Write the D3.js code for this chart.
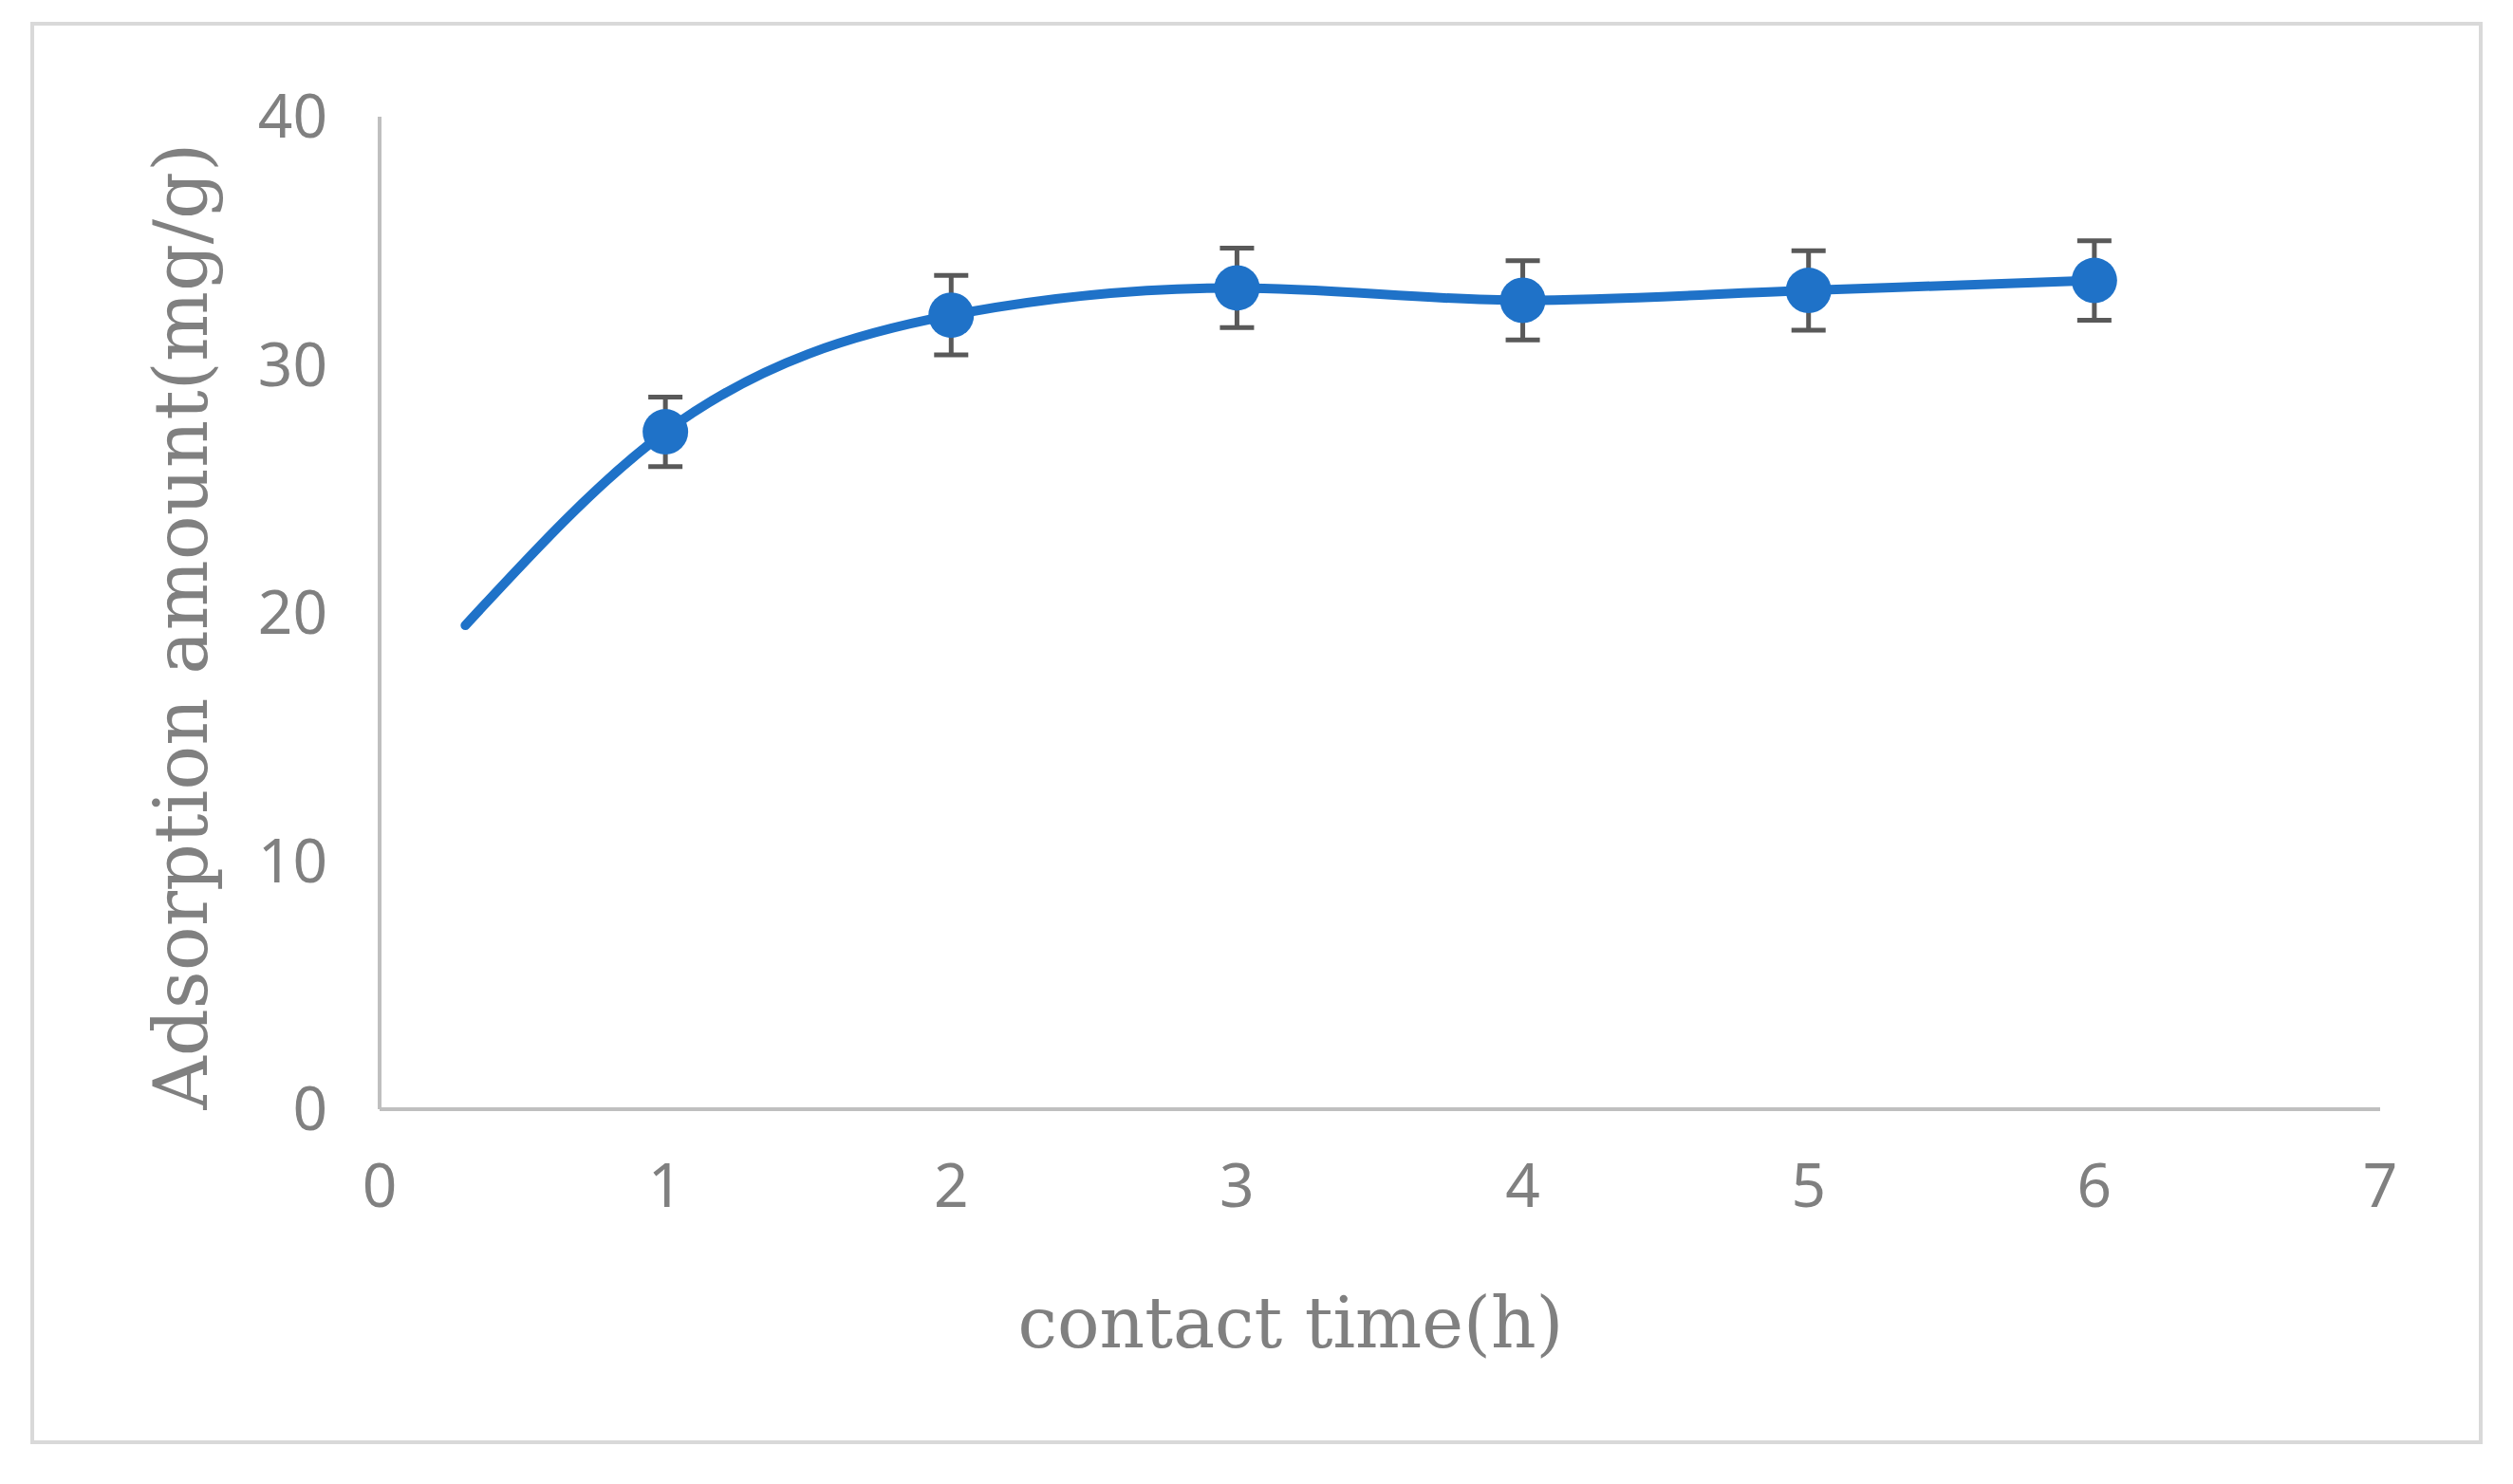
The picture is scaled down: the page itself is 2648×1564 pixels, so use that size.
<!DOCTYPE html>
<html><head><meta charset="utf-8">
<script src="https://cdn.jsdelivr.net/npm/d3@7"></script>
<style>body{margin:0;background:#fff}</style></head>
<body><svg id="c" width="2648" height="1564"></svg>
<script>
const xs = [1, 2, 3, 4, 5, 6];
const ys = [27.3, 32.0, 33.1, 32.6, 33.0, 33.4];
const errs = [1.4, 1.6, 1.6, 1.6, 1.6, 1.6];
const curveStart = [0.3, 19.5];
const xTicks = [0, 1, 2, 3, 4, 5, 6, 7];
const yTicks = [0, 10, 20, 30, 40];

const svg = d3.select("#c");
svg.append("rect").attr("x",34).attr("y",25).attr("width",2580).attr("height",1495)
  .attr("fill","#fff").attr("stroke","#d9d9d9").attr("stroke-width",4);
const x = d3.scaleLinear().domain([0,7]).range([400,2508]);
const y = d3.scaleLinear().domain([0,40]).range([1169,123]);
const grey="#808080";

svg.append("line").attr("x1",x(0)).attr("x2",x(0)).attr("y1",y(40)).attr("y2",y(0)).attr("stroke","#bfbfbf").attr("stroke-width",4);
svg.append("line").attr("x1",x(0)).attr("x2",x(7)).attr("y1",y(0)).attr("y2",y(0)).attr("stroke","#bfbfbf").attr("stroke-width",4);

svg.selectAll(".xt").data(xTicks).join("text").attr("x",d=>x(d)).attr("y",1272)
  .attr("text-anchor","middle").attr("font-family","Noto Sans, sans-serif").attr("font-size",64)
  .attr("fill",grey).text(d=>d);
svg.selectAll(".yt").data(yTicks).join("text").attr("x",345).attr("y",d=>y(d)+22)
  .attr("text-anchor","end").attr("font-family","Noto Sans, sans-serif").attr("font-size",64)
  .attr("fill",grey).text(d=>d);

svg.append("text").attr("x",1360).attr("y",1420).attr("text-anchor","middle")
  .attr("font-family","DejaVu Serif, serif").attr("font-size",74).attr("fill",grey).text("contact time(h)");
svg.append("text").attr("transform","translate(218,660) rotate(-90)").attr("text-anchor","middle")
  .attr("font-family","DejaVu Serif, serif").attr("font-size",78).attr("fill",grey).text("Adsorption amount(mg/g)");

const pts = [curveStart].concat(xs.map((v,i)=>[v,ys[i]]));
svg.append("path").attr("d", d3.line().x(d=>x(d[0])).y(d=>y(d[1])).curve(d3.curveMonotoneX)(pts))
  .attr("fill","none").attr("stroke","#1f72c8").attr("stroke-width",10).attr("stroke-linecap","round");

const eb = svg.append("g").attr("stroke","#595959").attr("stroke-width",5);
xs.forEach((v,i)=>{
  eb.append("line").attr("x1",x(v)).attr("x2",x(v)).attr("y1",y(ys[i]-errs[i])).attr("y2",y(ys[i]+errs[i]));
  [-1,1].forEach(s=>eb.append("line").attr("x1",x(v)-18).attr("x2",x(v)+18)
    .attr("y1",y(ys[i]+s*errs[i])).attr("y2",y(ys[i]+s*errs[i])));
});
svg.selectAll(".pt").data(xs).join("circle").attr("cx",d=>x(d)).attr("cy",(d,i)=>y(ys[i]))
  .attr("r",24).attr("fill","#1f72c8");
</script></body></html>
